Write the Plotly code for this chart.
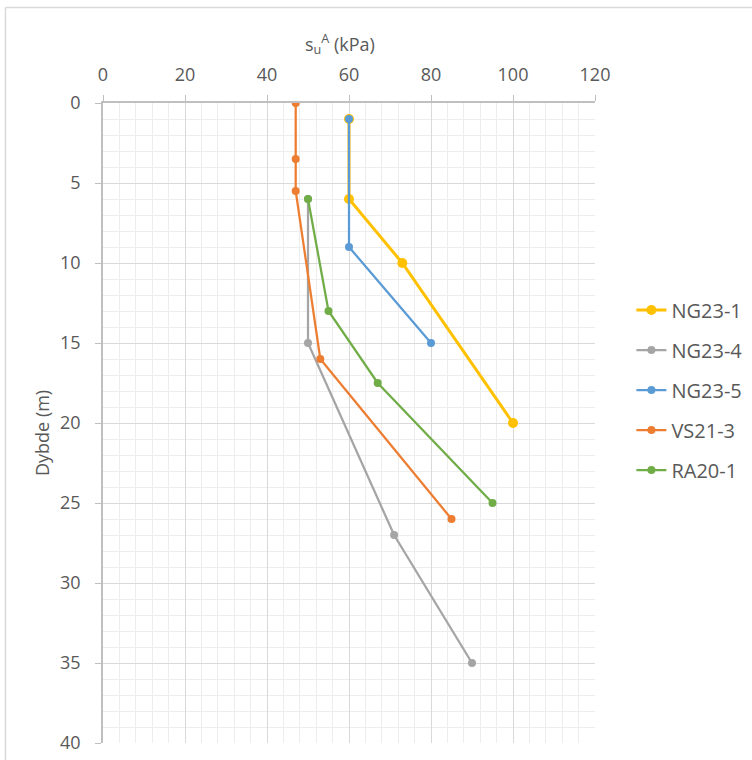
import plotly.graph_objects as go

# Data
series_names = ["NG23-1", "NG23-4", "NG23-5", "VS21-3", "RA20-1"]
series_colors = ["#FFC000", "#A5A5A5", "#5B9BD5", "#ED7D31", "#70AD47"]

ng23_1_su = [60, 60, 73, 100]
ng23_1_depth = [1, 6, 10, 20]

ng23_4_su = [50, 50, 71, 90]
ng23_4_depth = [6, 15, 27, 35]

ng23_5_su = [60, 60, 80]
ng23_5_depth = [1, 9, 15]

vs21_3_su = [47, 47, 47, 53, 85]
vs21_3_depth = [0, 3.5, 5.5, 16, 26]

ra20_1_su = [50, 55, 67, 95]
ra20_1_depth = [6, 13, 17.5, 25]

xs = [ng23_1_su, ng23_4_su, ng23_5_su, vs21_3_su, ra20_1_su]
ys = [ng23_1_depth, ng23_4_depth, ng23_5_depth, vs21_3_depth, ra20_1_depth]
line_widths = [3, 2.25, 2.25, 2.25, 2.25]
marker_sizes = [10, 8, 8, 8, 8]

FONT = "Open Sans"
TXT = "#595959"

fig = go.Figure()
for name, color, x, y, lw, ms in zip(series_names, series_colors, xs, ys, line_widths, marker_sizes):
    fig.add_trace(go.Scatter(
        x=x, y=y, name=name, mode="lines+markers", legendgroup=name,
        line=dict(color=color, width=lw),
        marker=dict(color=color, size=ms),
    ))

fig.update_layout(
    width=752, height=760,
    margin=dict(l=103, r=157, t=103, b=17, autoexpand=False),
    paper_bgcolor="white", plot_bgcolor="white",
    font=dict(family=FONT, size=18, color=TXT),
    showlegend=True,
    legend=dict(
        x=1.074, xanchor="left", y=(743 - 390) / 640, yanchor="middle",
        font=dict(family=FONT, size=20, color=TXT),
        tracegroupgap=11, traceorder="grouped",
        bgcolor="rgba(0,0,0,0)", itemwidth=30,
    ),
    xaxis=dict(
        side="top", range=[0, 120], dtick=20, tick0=0,
        showgrid=True, gridcolor="#D9D9D9", gridwidth=1.3,
        showline=True, linecolor="#BFBFBF", linewidth=1.5,
        ticks="outside", ticklen=6, tickcolor="#BFBFBF",
        tickfont=dict(family=FONT, size=18, color=TXT),
        ticklabelstandoff=7,
        zeroline=False,
        minor=dict(dtick=4, showgrid=True, gridcolor="#EDEDED", gridwidth=1, ticks=""),
    ),
    yaxis=dict(
        range=[40, 0], dtick=5, tick0=0,
        showgrid=True, gridcolor="#D9D9D9", gridwidth=1.3,
        showline=True, linecolor="#BFBFBF", linewidth=1.5,
        ticks="outside", ticklen=6, tickcolor="#BFBFBF",
        tickfont=dict(family=FONT, size=18, color=TXT),
        ticklabelstandoff=11,
        zeroline=False,
        minor=dict(dtick=1, showgrid=True, gridcolor="#EDEDED", gridwidth=1, ticks=""),
    ),
    shapes=[
        dict(type="line", xref="paper", yref="paper", x0=-0.1982, x1=1.4, y0=1.1492, y1=1.1492,
             line=dict(color="#D9D9D9", width=1.5)),
        dict(type="line", xref="paper", yref="paper", x0=-0.1982, x1=-0.1982, y0=1.1492, y1=-0.1,
             line=dict(color="#D9D9D9", width=1.5)),
    ],
    annotations=[
        dict(text="s<sub>u</sub><sup>A</sup> (kPa)", xref="paper", yref="paper",
             x=(340 - 103) / 492, y=(743 - 44) / 640, xanchor="center", yanchor="middle",
             showarrow=False, font=dict(family=FONT, size=18, color=TXT)),
        dict(text="Dybde (m)", xref="paper", yref="paper", textangle=-90,
             x=(42 - 103) / 492, y=(743 - 433) / 640, xanchor="center", yanchor="middle",
             showarrow=False, font=dict(family=FONT, size=18, color=TXT)),
    ],
)

fig.write_html("out.html")
